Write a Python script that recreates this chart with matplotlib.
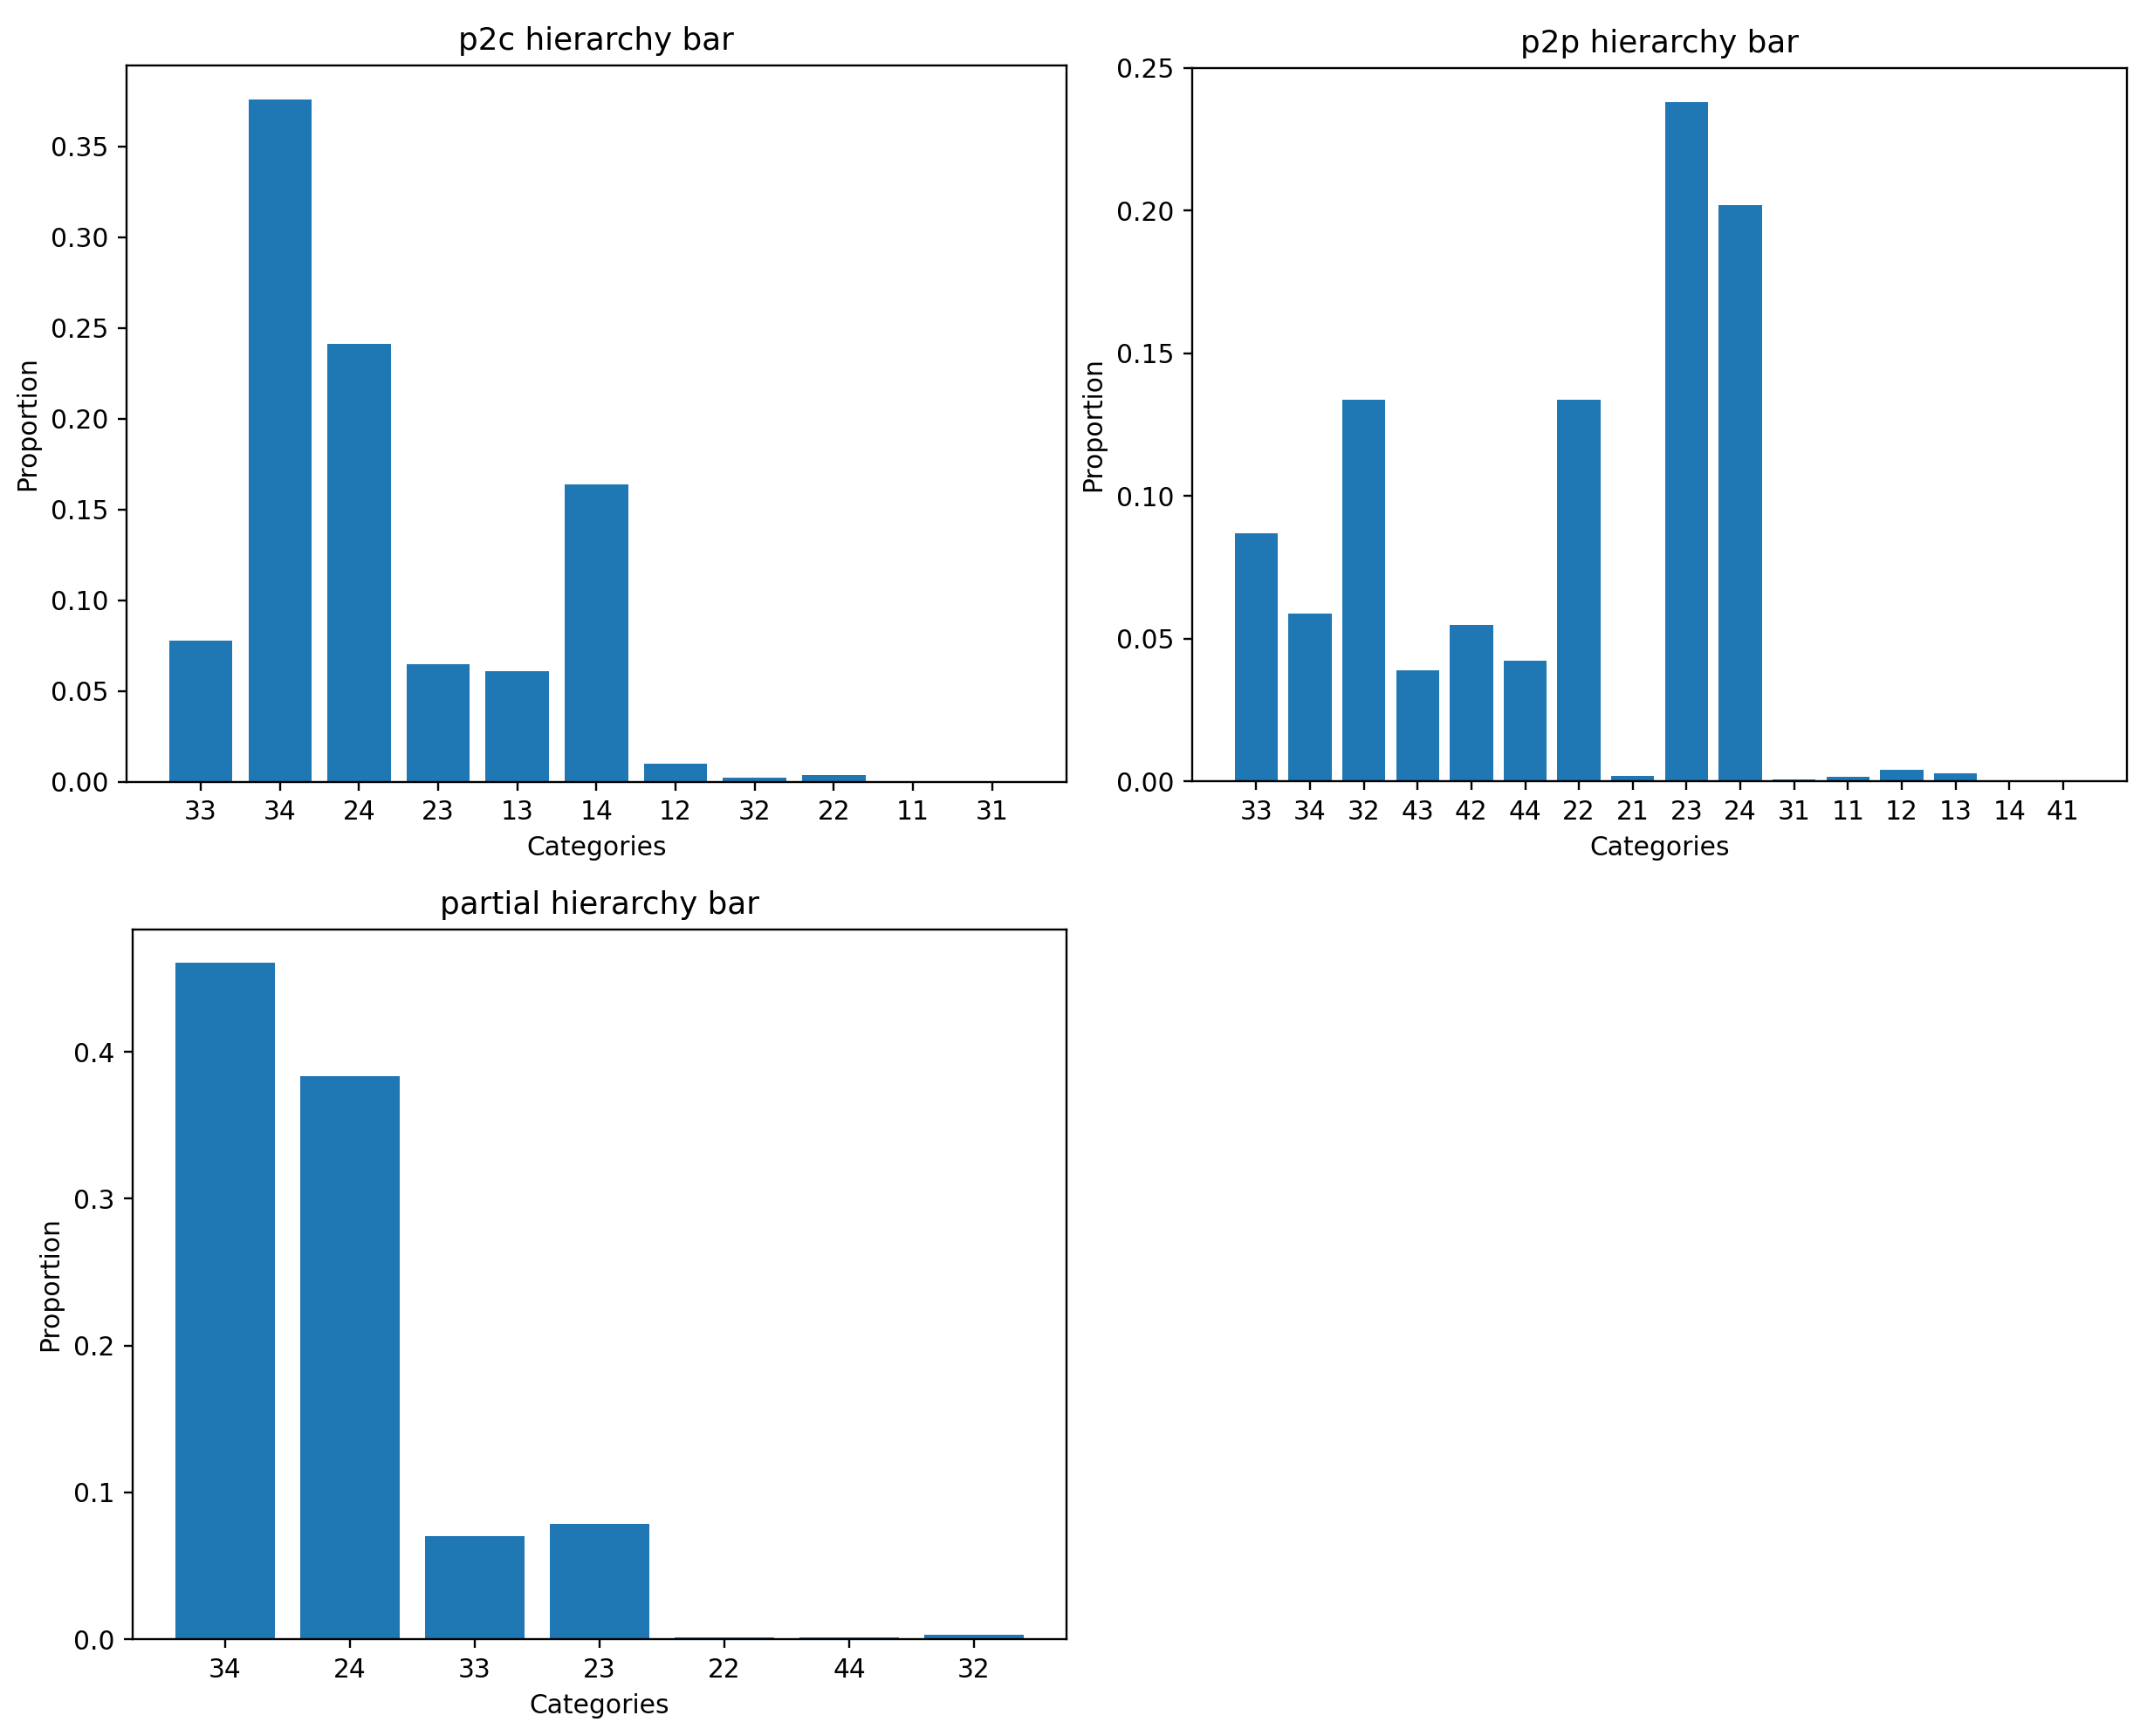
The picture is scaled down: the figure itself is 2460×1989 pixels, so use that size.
import matplotlib
matplotlib.use("Agg")
import matplotlib.pyplot as plt

# --- data ---
p2c_cats = ['33', '34', '24', '23', '13', '14', '12', '32', '22', '11', '31']
p2c_vals = [0.0777, 0.3758, 0.2413, 0.0649, 0.0611, 0.1637, 0.0099, 0.0024, 0.0035, 0.0, 0.0]

p2p_cats = ['33', '34', '32', '43', '42', '44', '22', '21', '23', '24', '31', '11', '12', '13', '14', '41']
p2p_vals = [0.0870, 0.0587, 0.1337, 0.0389, 0.0548, 0.0423, 0.1337, 0.0020,
            0.2381, 0.2019, 0.0006, 0.0014, 0.0041, 0.0029, 0.0, 0.0]

partial_cats = ['34', '24', '33', '23', '22', '44', '32']
partial_vals = [0.4606, 0.3832, 0.0700, 0.0783, 0.0013, 0.0013, 0.0030]

DPI = 214
fig = plt.figure(figsize=(2460 / DPI, 1989 / DPI), dpi=DPI)

# axes positions [left, bottom, width, height] in figure fractions
ax1 = fig.add_axes([0.0589, 0.5497, 0.4378, 0.4125])
ax2 = fig.add_axes([0.5553, 0.5500, 0.4354, 0.4108])
ax3 = fig.add_axes([0.0618, 0.0558, 0.4349, 0.4090])

for ax, cats, vals, title in [
    (ax1, p2c_cats, p2c_vals, 'p2c hierarchy bar'),
    (ax2, p2p_cats, p2p_vals, 'p2p hierarchy bar'),
    (ax3, partial_cats, partial_vals, 'partial hierarchy bar'),
]:
    ax.bar(cats, vals, color='#1f77b4')
    ax.set_title(title)
    ax.set_xlabel('Categories')
    ax.set_ylabel('Proportion')

fig.savefig('out.png', dpi=DPI)
